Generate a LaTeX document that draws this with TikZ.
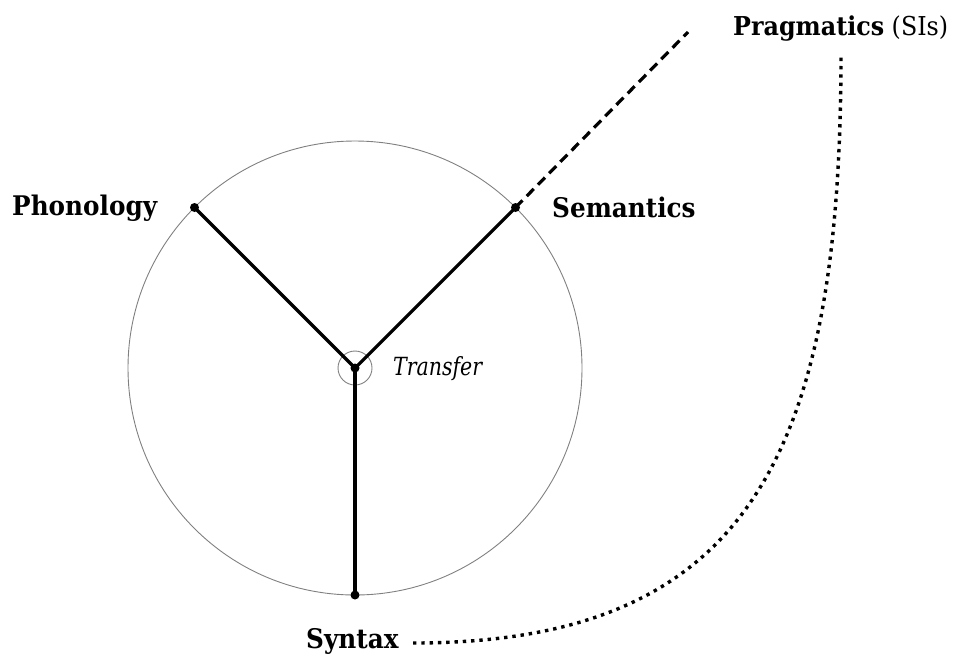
\documentclass[tikz,border=0pt]{standalone}
\usepackage{fontspec}
\setmainfont{DejaVu Serif}[FakeStretch=0.915]
\newfontfamily\trfont{DejaVu Serif}[FakeStretch=0.82]
\begin{document}
\begin{tikzpicture}[x=1pt,y=-1pt,
  lbl/.style={font=\fontsize{27}{31}\selectfont\bfseries, inner sep=0pt, anchor=base west},
  arm/.style={line width=3.2pt, black},
  pt/.style={circle, fill=black, inner sep=0pt, minimum size=9pt},
  ring/.style={gray, line width=0.9pt}]
\useasboundingbox (0,0) rectangle (955,657);
\coordinate (c) at (355,368);
\draw[ring] (c) circle[radius=227];
\draw[ring] (c) circle[radius=17];
\node[pt] (ph) at (194.5,207.5) {};
\node[pt] (se) at (515.5,207.5) {};
\node[pt] (sy) at (355,595) {};
\node[pt] (ctr) at (c) {};
\draw[arm] (ctr.center) -- (ph.center);
\draw[arm] (ctr.center) -- (se.center);
\draw[arm] (ctr.center) -- (sy.center);
\coordinate (dend) at (688,32);
\draw[arm, dash pattern=on 10pt off 6pt] (se.center) -- (dend);
\node[lbl] (phl) at (12,215) {Phonology};
\node[lbl] (sel) at (552,217) {Semantics};
\node[lbl] (syl) at (306,648) {Syntax};
\node[lbl, font=\fontsize{26}{30}\selectfont\bfseries] (prl) at (733,35) {Pragmatics\mdseries\ (SIs)};
\node[inner sep=0pt, anchor=base west, font=\trfont\fontsize{25}{29}\selectfont\itshape] (tr) at (393,375) {Transfer};
\coordinate (ds) at (413,643);
\coordinate (de) at (841,53);
\draw[line width=3.4pt, dash pattern=on 3.4pt off 4.9pt] (ds) .. controls (750,643) and (841,453) .. (de);
\end{tikzpicture}
\end{document}
